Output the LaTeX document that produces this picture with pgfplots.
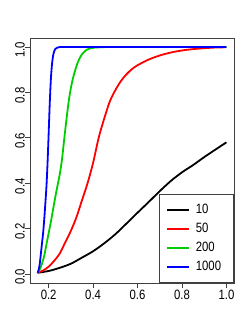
\documentclass[border=0pt]{standalone}
\usepackage{fontspec}
\setmainfont{Liberation Sans}[FakeStretch=0.84]
\usepackage{pgfplots}
\pgfplotsset{compat=1.18}
\definecolor{rgreen}{HTML}{00CD00}
\begin{document}
\fontsize{13.5}{15}\selectfont
\begin{tikzpicture}
\begin{axis}[
  name=ax,
  scale only axis,
  width=204pt, height=245pt,
  xmin=0.116, xmax=1.034, ymin=-0.04, ymax=1.04,
  xtick={0.2,0.4,0.6,0.8,1.0},
  ytick={0,0.2,0.4,0.6,0.8,1.0},
  xticklabels={0.2,0.4,0.6,0.8,1.0},
  yticklabels={0.0,0.2,0.4,0.6,0.8,1.0},
  xtick pos=left, ytick pos=left,
  tick align=outside,
  major tick length=5pt,
  every tick/.style={black!75, line width=0.8pt},
  axis line style={black!75, line width=0.8pt},
  /pgf/number format/assume math mode=true,
  tick label style={font=\fontsize{13.5}{15}\selectfont},
  yticklabel style={rotate=90, anchor=south, inner sep=0pt, xshift=-3pt},
  xticklabel style={inner sep=0pt, yshift=-2pt},
  legend style={at={(1,0)}, anchor=south east, draw=black!75, line width=0.8pt,
    font=\fontsize{13.5}{15}\selectfont, inner xsep=7pt, inner ysep=8pt,
    row sep=4pt, nodes={inner xsep=5.5pt, text height=8.5pt, text depth=2.5pt}},
  legend cell align=left,
  legend image code/.code={\draw[#1, line width=1.8pt] (0pt,0pt) -- (22pt,0pt);},
]
\addplot[black, line width=1.8pt, smooth] coordinates {
(0.15,0.005) (0.2,0.013) (0.25,0.027) (0.3,0.045) (0.35,0.072) (0.4,0.10)
(0.45,0.135) (0.5,0.175) (0.55,0.222) (0.6,0.27) (0.65,0.317) (0.7,0.365)
(0.75,0.41) (0.8,0.448) (0.85,0.48) (0.9,0.515) (0.95,0.548) (1.0,0.58)};
\addlegendentry{10}
\addplot[red, line width=1.8pt, smooth] coordinates {
(0.150,0.005) (0.175,0.015) (0.200,0.032) (0.225,0.058) (0.250,0.09)
(0.275,0.14) (0.300,0.19) (0.325,0.25) (0.350,0.325) (0.375,0.40)
(0.400,0.49) (0.425,0.60) (0.450,0.685) (0.475,0.76) (0.500,0.81)
(0.525,0.85) (0.550,0.88) (0.575,0.903) (0.600,0.92) (0.650,0.945)
(0.700,0.963) (0.750,0.976) (0.800,0.985) (0.850,0.991) (0.900,0.995)
(0.950,0.998) (1.000,0.999)};
\addlegendentry{50}
\addplot[rgreen, line width=1.8pt, smooth] coordinates {
(0.150,0.005) (0.160,0.02) (0.170,0.045) (0.180,0.08) (0.185,0.105)
(0.190,0.13) (0.200,0.18) (0.210,0.23) (0.220,0.285) (0.230,0.34)
(0.240,0.39) (0.250,0.44) (0.260,0.505) (0.270,0.595) (0.280,0.68)
(0.290,0.76) (0.300,0.82) (0.310,0.865) (0.320,0.90) (0.330,0.93)
(0.340,0.952) (0.350,0.968) (0.360,0.979) (0.370,0.987) (0.380,0.992)
(0.400,0.997) (0.430,0.999) (0.460,1.0) (0.55,1.0) (0.7,1.0) (0.85,1.0) (1.0,1.0)};
\addlegendentry{200}
\addplot[blue, line width=1.8pt, smooth] coordinates {
(0.150,0.005) (0.155,0.018) (0.160,0.045) (0.165,0.09) (0.170,0.135)
(0.175,0.18) (0.180,0.24) (0.185,0.31) (0.190,0.385) (0.195,0.49)
(0.200,0.62) (0.205,0.755) (0.210,0.86) (0.215,0.925) (0.220,0.962)
(0.225,0.982) (0.230,0.992) (0.240,0.998) (0.250,1.0) (0.27,1.0) (0.35,1.0)
(0.5,1.0) (0.7,1.0) (0.85,1.0) (1.0,1.0)};
\addlegendentry{1000}
\end{axis}
\path ([shift={(-30pt,-49pt)}]ax.south west) rectangle ([shift={(15pt,38pt)}]ax.north east);
\end{tikzpicture}
\end{document}
